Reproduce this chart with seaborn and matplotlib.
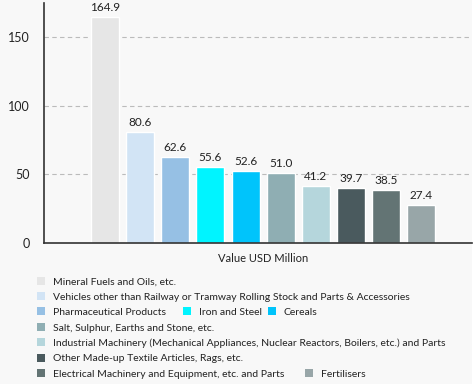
import matplotlib
matplotlib.use("Agg")
import matplotlib.pyplot as plt
import seaborn as sns
import pandas as pd
from matplotlib.patches import Patch, Rectangle

# chart data
categories = [
    "Mineral Fuels and Oils, etc.",
    "Vehicles other than Railway or Tramway Rolling Stock and Parts & Accessories",
    "Pharmaceutical Products",
    "Iron and Steel",
    "Cereals",
    "Salt, Sulphur, Earths and Stone, etc.",
    "Industrial Machinery (Mechanical Appliances, Nuclear Reactors, Boilers, etc.) and Parts",
    "Other Made-up Textile Articles, Rags, etc.",
    "Electrical Machinery and Equipment, etc. and Parts",
    "Fertilisers",
]
values = [164.9, 80.6, 62.6, 55.6, 52.6, 51.0, 41.2, 39.7, 38.5, 27.4]
colors = ["#e6e6e6", "#d2e4f5", "#96c0e4", "#00f4ff", "#00c4fb",
          "#8faeb3", "#b5d6dc", "#4a5a5e", "#637474", "#98a6a8"]
x_label = "Value USD Million"
y_ticks = [0, 50, 100, 150]

df = pd.DataFrame({"metric": x_label, "category": categories, "value": values})

sns.set_style("white")
plt.rcParams["font.family"] = ["Lato", "DejaVu Sans"]

fig = plt.figure(figsize=(4.74, 3.88), dpi=100, facecolor="white")
fig.patches.append(Rectangle((0, 0.01), 0.995, 0.99, transform=fig.transFigure,
                             facecolor="#f8f8f8", edgecolor="none", zorder=-10))
ax = fig.add_axes([0.092, 0.374, 0.904, 0.618])
ax.set_facecolor("#f8f8f8")

sns.barplot(data=df, x="metric", y="value", hue="category", hue_order=categories,
            palette=colors, gap=0.2, width=0.8, saturation=1, legend=False, ax=ax)

for cont in ax.containers:
    ax.bar_label(cont, fmt="%.1f", padding=3, fontsize=8.5, color="#222222")

ax.set_xlim(-0.5, 0.476)
ax.set_ylim(0, 175)
ax.set_yticks(y_ticks)
ax.tick_params(axis="y", length=0, labelsize=9, colors="#222222", pad=10)
ax.tick_params(axis="x", length=0, labelsize=8, colors="#222222", pad=7)
ax.set_xlabel("")
ax.set_ylabel("")
for v in y_ticks[1:]:
    ax.axhline(v, color="#bbbbbb", linestyle=(0, (4, 3)), linewidth=0.8, zorder=0)
for s in ["top", "right"]:
    ax.spines[s].set_visible(False)
ax.spines["left"].set_color("#333333")
ax.spines["bottom"].set_color("#333333")
ax.spines["left"].set_linewidth(1.2)
ax.spines["bottom"].set_linewidth(1.2)

# legend laid out like the original's flowing rows: (item, x px, y px)
legend_pos = [(0, 37, 281.7), (1, 37, 296.9),
              (2, 37, 312.3), (3, 183, 312.3), (4, 268, 312.3),
              (5, 37, 327.8), (6, 37, 343.2), (7, 37, 358.6),
              (8, 37, 374.0), (9, 305, 374.0)]
for i, px, py in legend_pos:
    handle = Patch(facecolor=colors[i], edgecolor="none", label=categories[i])
    leg = fig.legend(handles=[handle], loc="center left",
                     bbox_to_anchor=(px / 474, 1 - py / 388),
                     frameon=False, fontsize=7.5, handlelength=0.8, handleheight=0.8,
                     handletextpad=0.7, borderpad=0, borderaxespad=0)
    for t in leg.get_texts():
        t.set_color("#222222")

fig.savefig("out.png", dpi=100, facecolor=fig.get_facecolor())
